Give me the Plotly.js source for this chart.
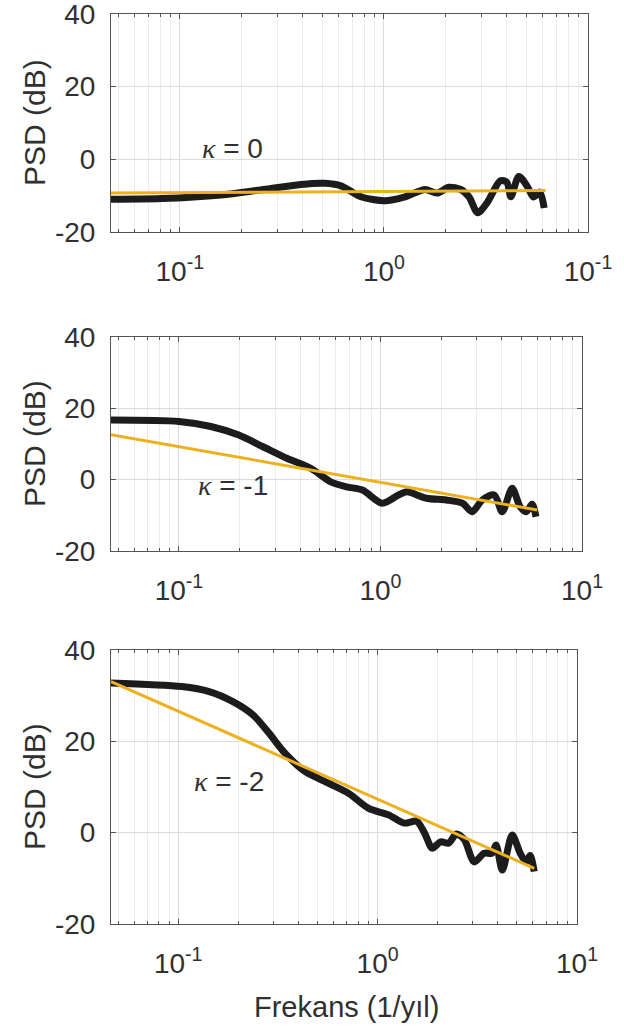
<!DOCTYPE html>
<html>
<head>
<meta charset="utf-8">
<script src="https://cdn.plot.ly/plotly-3.0.1.min.js"></script>
<style>html,body{margin:0;padding:0;background:#fff;}#chart{width:624px;height:1028px;}</style>
</head>
<body>
<div id="chart"></div>
<script>
// ---- data ----
const freq1 = [0.046,0.081,0.159,0.249,0.392,0.514,0.616,0.771,1.01,1.27,1.59,1.82,2.08,2.38,2.61,2.88,3.2,3.72,4.0,4.19,4.58,5.06,5.4,5.8,6.1];
const psd1  = [-11.0,-10.8,-9.8,-8.4,-6.9,-6.6,-7.3,-10.3,-11.4,-10.3,-8.3,-9.3,-7.7,-8.3,-10.3,-14.7,-12.0,-5.9,-6.3,-10.3,-4.7,-7.6,-10.4,-9.0,-13.4];
const fitF1 = [0.046,6.2];
const fitY1 = [-9.3,-8.6];

const freq2 = [0.046,0.1,0.144,0.198,0.26,0.343,0.45,0.566,0.679,0.814,1.02,1.23,1.35,1.69,2.12,2.55,2.85,3.2,3.67,4.02,4.5,4.93,5.28,5.65,5.91];
const psd2  = [16.7,16.3,14.9,12.5,9.3,6.0,3.2,-0.6,-2.0,-2.9,-6.6,-4.3,-3.4,-5.2,-5.7,-6.6,-9.0,-5.7,-4.3,-9.0,-2.4,-7.6,-9.0,-6.9,-10.4];
const fitF2 = [0.046,6.0];
const fitY2 = [12.6,-8.5];

const freq3 = [0.046,0.104,0.143,0.188,0.237,0.285,0.343,0.432,0.569,0.716,0.902,1.135,1.36,1.57,1.72,1.88,2.07,2.27,2.48,2.72,3.05,3.42,3.75,3.93,4.22,4.73,5.19,5.56,5.82,6.1];
const psd3  = [32.8,32.0,30.9,28.7,25.8,21.8,17.4,13.4,10.8,8.6,5.3,3.9,2.1,2.5,-0.1,-3.4,-2.0,-2.3,-0.3,-1.5,-6.4,-4.5,-4.5,-2.7,-8.2,-0.5,-4.5,-6.4,-5.0,-8.5];
const fitF3 = [0.046,6.1];
const fitY3 = [33.1,-7.8];

const kappaLabels = ['0','-1','-2'];
const kappaPos = [[0.125,3.1],[0.122,-1.5],[0.117,11.1]];
const xTickVals = [0.1,1,10];
const xTickText1 = ['10<sup>-1</sup>','10<sup>0</sup>','10<sup>-1</sup>'];
const xTickText  = ['10<sup>-1</sup>','10<sup>0</sup>','10<sup>1</sup>'];
const minorVals = [0.05,0.06,0.07,0.08,0.09,0.2,0.3,0.4,0.5,0.6,0.7,0.8,0.9,2,3,4,5,6,7,8,9];
const yTickVals = [-20,0,20,40];
const yTickText = ['-20','0','20','40'];
const yTitle = 'PSD (dB)';
const xTitle = 'Frekans (1/yıl)';

// ---- styling ----
const FONT = 'Liberation Sans, Arial, sans-serif';
const TXT = '#303030';
const AX = '#555555';
const BLACK = '#1c1c1c';
const ORANGE = '#EDB120';

function xaxis(domain, anchor, ticktext){
  return {
    type:'log', range:[Math.log10(0.046), 1], domain:domain, anchor:anchor,
    tickmode:'array', tickvals:xTickVals, ticktext:ticktext,
    ticks:'inside', ticklen:5, tickcolor:AX, showline:true, linecolor:AX, linewidth:1, mirror:'ticks',
    showgrid:true, gridcolor:'#dcdcdc', gridwidth:1, zeroline:false,
    minor:{tickmode:'array', tickvals:minorVals, ticks:'inside', ticklen:3, tickcolor:AX, showgrid:true, gridcolor:'#ebebeb', gridwidth:1},
    tickfont:{family:FONT, size:28, color:TXT}, ticklabelstandoff:14, ticklabeloverflow:'allow'
  };
}
function yaxis(domain, anchor){
  return {
    range:[-20,40], domain:domain, anchor:anchor,
    tickmode:'array', tickvals:yTickVals, ticktext:yTickText,
    ticks:'inside', ticklen:5, tickcolor:AX, showline:true, linecolor:AX, linewidth:1, mirror:'ticks',
    showgrid:true, gridcolor:'#dcdcdc', gridwidth:1, zeroline:false,
    tickfont:{family:FONT, size:28, color:TXT}, ticklabelstandoff:9, ticklabeloverflow:'allow'
  };
}

const W = 624, H = 1028;
const dx1 = [111/W, 588/W], dx2 = [111/W, 582/W], dx3 = [111/W, 577/W];
const dy1 = [1-232/H, 1-14/H], dy2 = [1-551/H, 1-337/H], dy3 = [1-924/H, 1-650/H];

const traces = [
  {x:freq1, y:psd1, xaxis:'x', yaxis:'y', mode:'lines', line:{color:BLACK, width:7, shape:'spline', smoothing:0.8}},
  {x:fitF1, y:fitY1, xaxis:'x', yaxis:'y', mode:'lines', line:{color:ORANGE, width:3}},
  {x:freq2, y:psd2, xaxis:'x2', yaxis:'y2', mode:'lines', line:{color:BLACK, width:7, shape:'spline', smoothing:0.8}},
  {x:fitF2, y:fitY2, xaxis:'x2', yaxis:'y2', mode:'lines', line:{color:ORANGE, width:3}},
  {x:freq3, y:psd3, xaxis:'x3', yaxis:'y3', mode:'lines', line:{color:BLACK, width:7, shape:'spline', smoothing:0.8}},
  {x:fitF3, y:fitY3, xaxis:'x3', yaxis:'y3', mode:'lines', line:{color:ORANGE, width:3}}
];

const annotations = [];
const axes = [['x','y'],['x2','y2'],['x3','y3']];
kappaLabels.forEach((k,i)=>{
  annotations.push({
    xref:axes[i][0], yref:axes[i][1], x:Math.log10(kappaPos[i][0]), y:kappaPos[i][1],
    xanchor:'left', yanchor:'middle', showarrow:false,
    text:'<span style="font-family:\'Liberation Serif\',serif;font-style:italic">κ</span> = '+k,
    font:{family:FONT, size:28, color:TXT}
  });
});
const yTitleY = [(dy1[0]+dy1[1])/2, (dy2[0]+dy2[1])/2, (dy3[0]+dy3[1])/2];
yTitleY.forEach(yy=>{
  annotations.push({xref:'paper', yref:'paper', x:34/W, y:yy, xanchor:'center', yanchor:'middle',
    textangle:-90, showarrow:false, text:yTitle, font:{family:FONT, size:30, color:TXT}});
});
annotations.push({xref:'paper', yref:'paper', x:346/W, y:1-1007/H, xanchor:'center', yanchor:'middle',
  showarrow:false, text:xTitle, font:{family:FONT, size:29, color:TXT}});

const layout = {
  width:W, height:H, margin:{l:0,r:0,t:0,b:0}, showlegend:false,
  paper_bgcolor:'#ffffff', plot_bgcolor:'#ffffff',
  xaxis:xaxis(dx1,'y',xTickText1), yaxis:yaxis(dy1,'x'),
  xaxis2:xaxis(dx2,'y2',xTickText), yaxis2:yaxis(dy2,'x2'),
  xaxis3:xaxis(dx3,'y3',xTickText), yaxis3:yaxis(dy3,'x3'),
  annotations:annotations
};

Plotly.newPlot('chart', traces, layout, {staticPlot:true, displayModeBar:false});
</script>
</body>
</html>
